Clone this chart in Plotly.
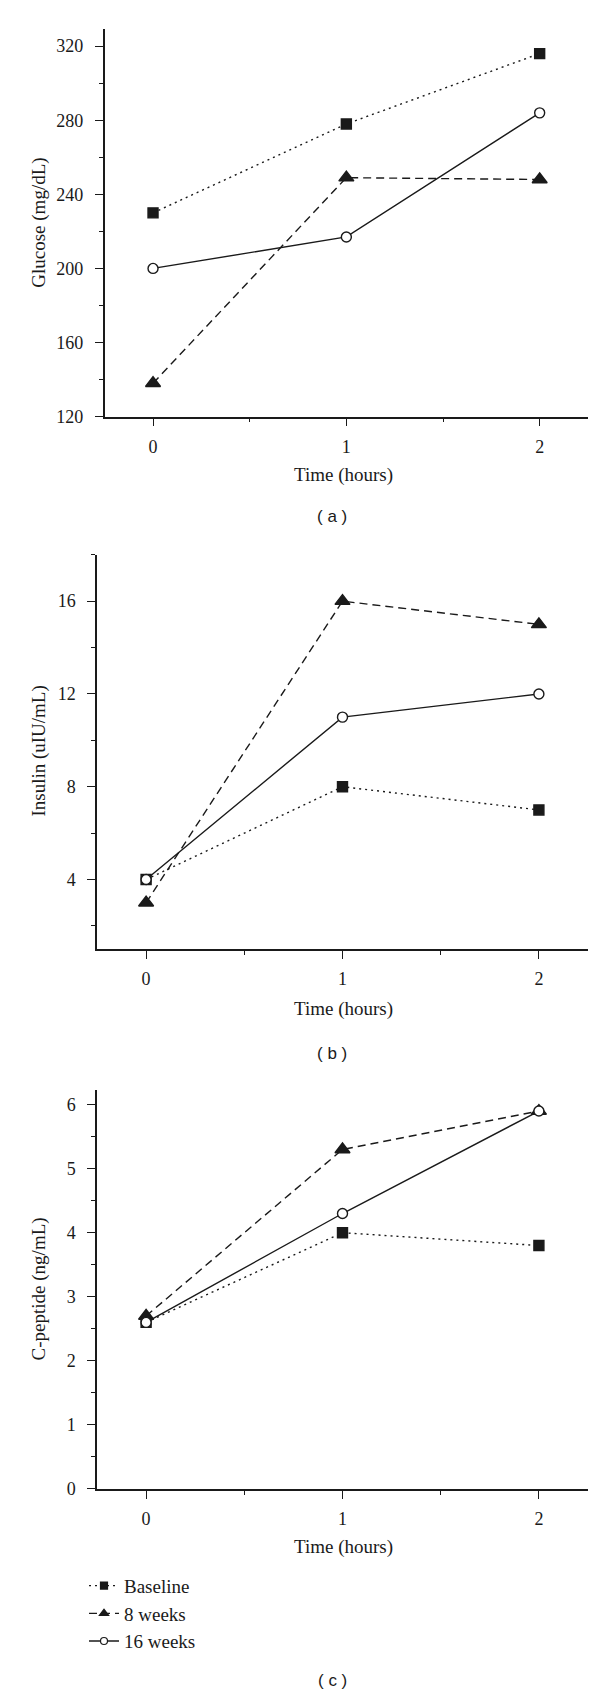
import plotly.graph_objects as go

# ---------------- data ----------------
time_hours = [0, 1, 2]
series_names = ["Baseline", "8 weeks", "16 weeks"]

glucose_baseline = [230, 278, 316]
glucose_8wk = [138, 249, 248]
glucose_16wk = [200, 217, 284]

insulin_baseline = [4, 8, 7]
insulin_8wk = [3, 16, 15]
insulin_16wk = [4, 11, 12]

cpeptide_baseline = [2.6, 4.0, 3.8]
cpeptide_8wk = [2.7, 5.3, 5.9]
cpeptide_16wk = [2.6, 4.3, 5.9]

x_tick_vals = [0, 1, 2]
glucose_tick_vals = [120, 160, 200, 240, 280, 320]
insulin_tick_vals = [4, 8, 12, 16]
cpeptide_tick_vals = [0, 1, 2, 3, 4, 5, 6]

y_titles = ["Glucose (mg/dL)", "Insulin (uIU/mL)", "C-peptide (ng/mL)"]
x_title = "Time (hours)"
panel_labels = ["( a )", "( b )", "( c )"]

# ---------------- layout helpers ----------------
W, H = 600, 1697


def px(x):
    return x / W


def py(y):
    return 1 - y / H


SERIF = "Liberation Serif, Times New Roman, serif"
SANS = "Liberation Sans, Arial, sans-serif"
INK = "#1a1a1a"

styles = {
    "Baseline": dict(dash="2px,4px", symbol="square", fill=INK, size=10),
    "8 weeks": dict(dash="8px,5px", symbol="triangle-up", fill=INK, size=13),
    "16 weeks": dict(dash="solid", symbol="circle", fill="white", size=10),
}

panels = [
    dict(series=[glucose_baseline, glucose_8wk, glucose_16wk], yrange=[120, 329.5],
         ticks=glucose_tick_vals, minor=20,
         xdom=[96.7, 580], ydom=[20.7, 411], ytitle_y=216, xtitle_y=470, label_y=512),
    dict(series=[insulin_baseline, insulin_8wk, insulin_16wk], yrange=[1, 18],
         ticks=insulin_tick_vals, minor=2,
         xdom=[89, 580], ydom=[550, 946.7], ytitle_y=748, xtitle_y=1007, label_y=1052),
    dict(series=[cpeptide_baseline, cpeptide_8wk, cpeptide_16wk], yrange=[0, 6.23],
         ticks=cpeptide_tick_vals, minor=0.5,
         xdom=[89, 580], ydom=[1088.3, 1489.7], ytitle_y=1289, xtitle_y=1548, label_y=1682),
]

fig = go.Figure()
annotations = []
layout_axes = {}

for i, p in enumerate(panels):
    n = i + 1
    xa = "x" if n == 1 else f"x{n}"
    ya = "y" if n == 1 else f"y{n}"
    for name, vals in zip(series_names, p["series"]):
        s = styles[name]
        fig.add_trace(go.Scatter(
            x=time_hours, y=vals, xaxis=xa, yaxis=ya, mode="lines+markers",
            name=name, showlegend=False,
            line=dict(color=INK, width=1.4, dash=s["dash"]),
            marker=dict(symbol=s["symbol"], size=s["size"], color=s["fill"],
                        line=dict(color=INK, width=1.4)),
            cliponaxis=False,
        ))
    common_font = dict(family=SERIF, size=18, color=INK)
    layout_axes[f"xaxis{'' if n == 1 else n}"] = dict(
        domain=[px(p["xdom"][0]), px(p["xdom"][1])], anchor=ya,
        range=[-0.25, 2.25], tickvals=x_tick_vals, ticks="outside", ticklen=8,
        tickwidth=1.4, tickcolor=INK, showline=True, linecolor=INK, linewidth=1.5,
        showgrid=False, zeroline=False, tickfont=common_font,
        ticklabelstandoff=5,
        minor=dict(tickvals=[0.5, 1.5], ticks="outside", ticklen=4, tickwidth=1.4,
                   tickcolor=INK, showgrid=False),
        fixedrange=True,
    )
    layout_axes[f"yaxis{'' if n == 1 else n}"] = dict(
        domain=[py(p["ydom"][1]), py(p["ydom"][0])], anchor=xa,
        range=p["yrange"], tickvals=p["ticks"], ticks="outside", ticklen=8,
        tickwidth=1.4, tickcolor=INK, showline=True, linecolor=INK, linewidth=1.5,
        showgrid=False, zeroline=False, tickfont=common_font,
        ticklabelstandoff=8,
        minor=dict(dtick=p["minor"], tick0=0, ticks="outside", ticklen=4, tickwidth=1.4,
                   tickcolor=INK, showgrid=False),
        fixedrange=True,
    )
    annotations.append(dict(text=y_titles[i], textangle=-90, x=px(31), y=py(p["ytitle_y"]),
                            xref="paper", yref="paper", showarrow=False,
                            xanchor="center", yanchor="middle",
                            font=dict(family=SERIF, size=19, color=INK)))
    annotations.append(dict(text=x_title, x=px(335), y=py(p["xtitle_y"]),
                            xref="paper", yref="paper", showarrow=False,
                            xanchor="center", yanchor="middle",
                            font=dict(family=SERIF, size=19, color=INK)))
    annotations.append(dict(text=panel_labels[i], x=px(324), y=py(p["label_y"]),
                            xref="paper", yref="paper", showarrow=False,
                            xanchor="center", yanchor="middle",
                            font=dict(family=SANS, size=17, color=INK)))

# legend-only entries (smaller markers, as in the reference key)
legend_sizes = {"Baseline": 7, "8 weeks": 8, "16 weeks": 7}
for name in series_names:
    s = styles[name]
    fig.add_trace(go.Scatter(
        x=[None], y=[None], xaxis="x3", yaxis="y3", mode="lines+markers", name=name,
        legendgroup=name, showlegend=True,
        line=dict(color=INK, width=1.3, dash=s["dash"]),
        marker=dict(symbol=s["symbol"], size=legend_sizes[name], color=s["fill"],
                    line=dict(color=INK, width=1.2)),
    ))

fig.update_layout(
    width=W, height=H,
    margin=dict(l=0, r=0, t=0, b=0),
    paper_bgcolor="white", plot_bgcolor="white",
    font=dict(family=SERIF, size=18, color=INK),
    showlegend=True,
    legend=dict(x=px(76), y=py(1568), xanchor="left", yanchor="top",
                font=dict(family=SERIF, size=19, color=INK),
                bgcolor="rgba(0,0,0,0)", borderwidth=0, itemwidth=30,
                tracegroupgap=0),
    annotations=annotations,
    **layout_axes,
)

fig.write_html("out.html", config={"displayModeBar": False})
